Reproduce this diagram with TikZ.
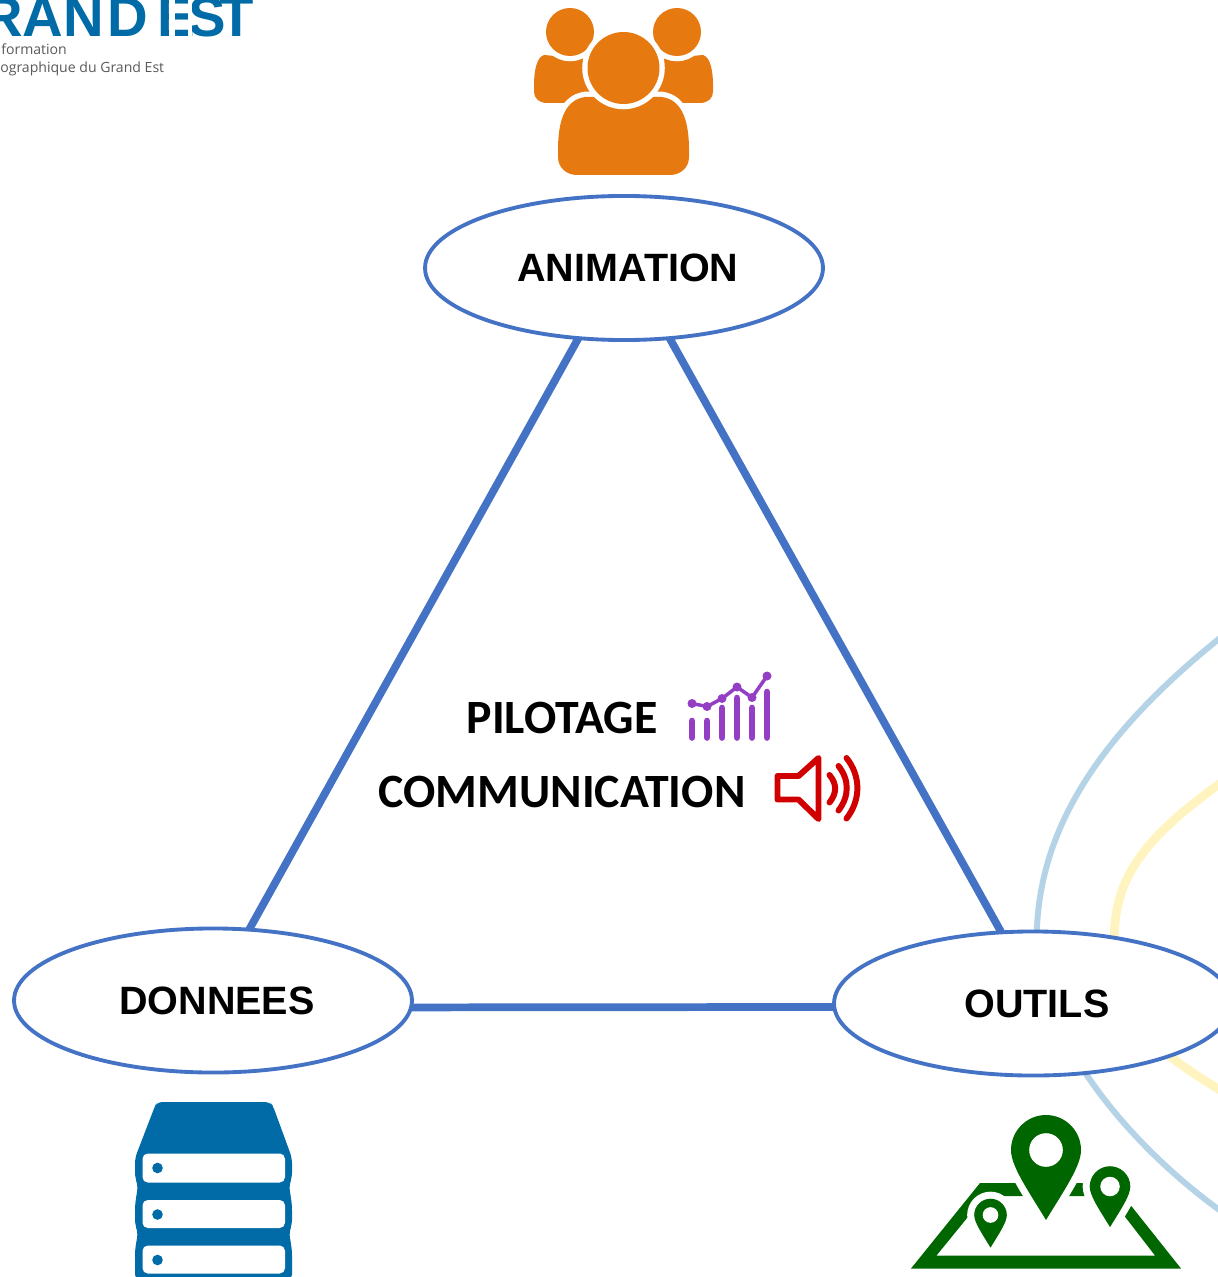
\documentclass[tikz,border=0pt]{standalone}
\usepackage{fontspec}
\setmainfont{Liberation Sans}
\newfontfamily\carlito{Carlito}
\newfontfamily\opensans{Open Sans}
\usetikzlibrary{shapes.geometric,positioning,backgrounds}
\definecolor{lineblue}{HTML}{4472C4}
\definecolor{paleblue}{HTML}{B4D3E6}
\definecolor{paleyellow}{HTML}{FFF4BF}
\definecolor{iconorange}{HTML}{E67A11}
\definecolor{iconblue}{HTML}{006BA6}
\definecolor{icongreen}{HTML}{006600}
\definecolor{iconpurple}{HTML}{943EC3}
\definecolor{iconred}{HTML}{D00000}
\tikzset{
  pole/.style={ellipse, draw=lineblue, line width=2.2pt, fill=white, minimum width=226.5pt, minimum height=82pt, inner sep=0pt, outer sep=0pt, font=\fontsize{22.5}{26}\selectfont\bfseries},
  side/.style={line width=4.4pt, draw=lineblue},
  paleline/.style={line width=3.4pt, draw=paleblue},
  yellowline/.style={line width=5pt, draw=paleyellow},
  caption/.style={inner sep=0pt, font=\carlito\fontsize{27.2}{32}\selectfont\bfseries},
  logotext/.style={inner sep=0pt, anchor=base west, text=black!65, font=\opensans\fontsize{8}{10}\selectfont},
  ringed/.style={fill=#1, preaction={draw=white, line width=6pt}},
  ringedpin/.style={fill=#1, preaction={draw=white, line width=8pt, line join=round}}
}
\newcommand{\mappin}[3]{
  \begin{scope}[shift={(#1,#2)}, scale=#3]
    \path[ringedpin=icongreen] (-1,0) .. controls (-1,-0.55) and (-0.55,-1) .. (0,-1) .. controls (0.55,-1) and (1,-0.55) .. (1,0) .. controls (1,0.45) and (0.55,1.1) .. (0,2) .. controls (-0.55,1.1) and (-1,0.45) .. (-1,0) -- cycle;
    \fill[white] (0,0) circle [radius=0.48];
  \end{scope}
}
\begin{document}
\begin{tikzpicture}[x=0.02cm, y=-0.02cm]
\useasboundingbox (0,0) rectangle (1217,1277);
\coordinate (bluetop) at (1225,634);
\coordinate (yellowtop) at (1225,780);
\coordinate (bluelow) at (1225,1214);
\coordinate (yellowlow) at (1225,1093);
% poles
\node[pole] (animation) at (624,268) {\hspace*{4.5pt}ANIMATION};
\node[pole] (donnees) at (213,1000.5) {\hspace*{4.5pt}DONNEES};
\node[pole] (outils) at (1033,1003.5) {\hspace*{4.5pt}OUTILS};
\begin{scope}[on background layer]
\draw[paleline] (outils.87) .. controls (1040,840) and (1085,745) .. (bluetop);
\draw[yellowline] (outils.39.5) .. controls (1115,880) and (1140,840) .. (yellowtop);
\draw[paleline] (outils.-53.6) .. controls (1120,1125) and (1170,1175) .. (bluelow);
\draw[yellowline] (outils.-21.5) .. controls (1185,1068) and (1200,1078) .. (yellowlow);
\draw[side] (animation.237) -- (donnees.63);
\draw[side] (animation.-57) -- (outils.114);
\draw[side] (donnees.-2.5) -- (outils.181);
\end{scope}
% center
\node[caption] (pilotage) at (562,718) {PILOTAGE};
\node[caption] (communication) at (562,792) {COMMUNICATION};
% chart icon
\foreach \x/\top in {692/718, 707/718, 722/705, 737/695, 752/705, 767/689}
  \draw[iconpurple, line width=3.8pt, line cap=round] (\x,\top+3) -- (\x,737.5);
\draw[iconpurple, line width=2pt] (692,703.5) -- (707,706.5) -- (722,698.5) -- (737,687) -- (752,697.5) -- (767,676);
\foreach \x/\y in {692/703.5, 707/706.5, 722/698.5, 737/687, 752/697.5, 767/676}
  \fill[iconpurple] (\x,\y) circle [radius=4.5];
% speaker icon
\draw[iconred, line width=3.4pt, line join=round] (777.5,776) -- (798.5,776) -- (818.5,758) -- (818.5,819) -- (798.5,799.5) -- (777.5,799.5) -- cycle;
\draw[iconred, line width=3.4pt, line cap=round] (829.5,775) .. controls (837,784) and (837,793) .. (829.5,802.5);
\draw[iconred, line width=3.4pt, line cap=round] (838.5,766) .. controls (849.5,780) and (849.5,796) .. (838.5,810.5);
\draw[iconred, line width=3.4pt, line cap=round] (846.5,758) .. controls (861,776) and (861,800) .. (846.5,818.5);
% people icon
\fill[iconorange] (534,85) .. controls (534,70) and (537,57) .. (544,55) -- (600,60) -- (600,103) -- (547,103) .. controls (539,103) and (534,98) .. (534,92) -- cycle;
\fill[iconorange] (713,85) .. controls (713,70) and (710,57) .. (703,55) -- (647,60) -- (647,103) -- (700,103) .. controls (708,103) and (713,98) .. (713,92) -- cycle;
\path[ringed=iconorange] (570,32) circle [radius=24];
\path[ringed=iconorange] (677,32) circle [radius=24];
\path[ringed=iconorange] (558,150) .. controls (558,125) and (563,100) .. (585,97) -- (662,97) .. controls (684,100) and (689,125) .. (689,150) -- (689,157) .. controls (689,168) and (680,175) .. (670,175) -- (577,175) .. controls (567,175) and (558,168) .. (558,157) -- cycle;
\path[ringed=iconorange] (623.5,68) circle [radius=36];
% server icon
\fill[iconblue] (155,1106) [rounded corners=3pt] -- (157,1102) -- (270,1102) -- (273,1106) -- (292,1158) -- (292,1178) -- (289,1185) -- (292,1205) -- (292,1225) -- (289,1232) -- (292,1250) -- (292,1280) -- (135,1280) -- (135,1250) -- (138,1232) -- (135,1225) -- (135,1205) -- (138,1185) -- (135,1178) -- (135,1158) -- cycle;
\foreach \y/\h in {1153.5/1182.5, 1200/1228, 1245.5/1273.5} {
  \fill[white, rounded corners=3pt] (142.5,\y) rectangle (285,\h);
  \fill[iconblue] (157.5,\y+14.5) circle [radius=5.3];
}
% map icon
\fill[icongreen, even odd rule] (911,1268.5) -- (1181,1268.5) -- (1113,1183) -- (980,1183) -- cycle (936.5,1255.5) -- (1155,1255.5) -- (1109,1196) -- (985,1196) -- cycle;
\mappin{1046}{1150}{35}
\mappin{1110}{1186.5}{20.3}
\mappin{990.5}{1215}{16.3}
% logo
\node[inner sep=0pt, anchor=base west, text=iconblue, font=\fontsize{32}{32}\selectfont\bfseries] (logo) at (-18,37) {RAN\kern1.7pt D\kern5.7pt E\kern-3.7pt S\kern-3.7pt T};
\fill[white] (168.5,0) rectangle (174.5,40);
\fill[white] (187.5,0) rectangle (191.5,40);
\node[logotext] (logoline) at (1,55) {formation};
\node[logotext] (logoplace) at (0,73) {ographique du Grand Est};
\end{tikzpicture}
\end{document}
